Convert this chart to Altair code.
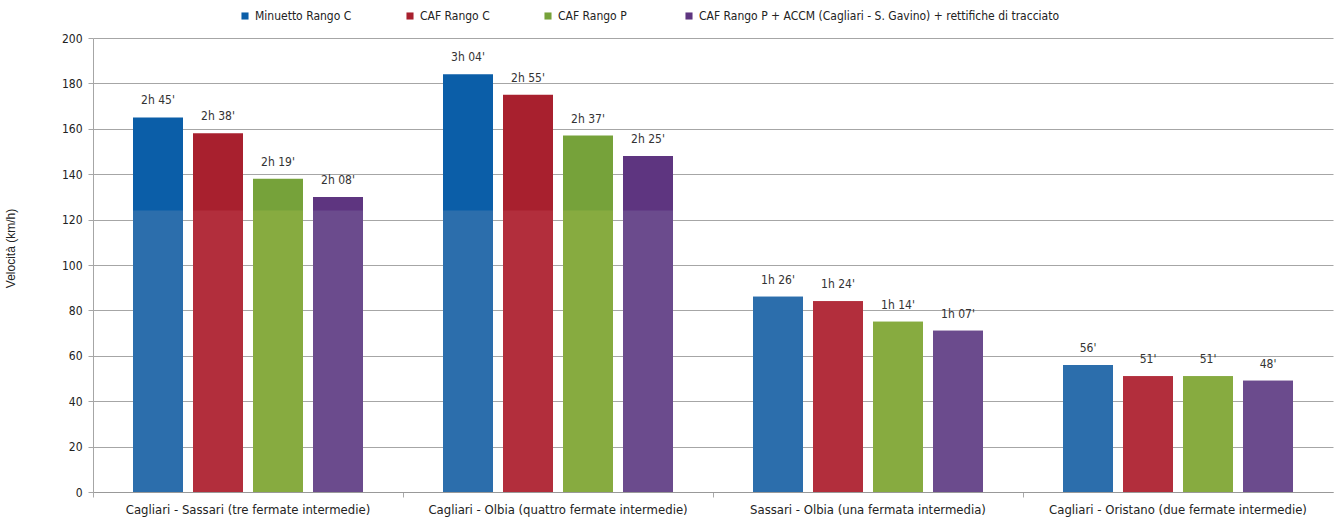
import altair as alt
import pandas as pd

routes = [
    "Cagliari - Sassari (tre fermate intermedie)",
    "Cagliari - Olbia (quattro fermate intermedie)",
    "Sassari - Olbia (una fermata intermedia)",
    "Cagliari - Oristano (due fermate intermedie)",
]
series = [
    "Minuetto Rango C",
    "CAF Rango C",
    "CAF Rango  P",
    "CAF Rango P + ACCM (Cagliari - S. Gavino) + rettifiche di  tracciato",
]
minuetto = [165, 184, 86, 56]
caf_c = [158, 175, 84, 51]
caf_p = [138, 157, 75, 51]
caf_p_accm = [130, 148, 71, 49]

minuetto_t = ["2h 45'", "3h 04'", "1h 26'", "56'"]
caf_c_t = ["2h 38'", "2h 55'", "1h 24'", "51'"]
caf_p_t = ["2h 19'", "2h 37'", "1h 14'", "51'"]
caf_p_accm_t = ["2h 08'", "2h 25'", "1h 07'", "48'"]

dark_colors = ["#0b5ea8", "#a8202e", "#76a23a", "#5e3580"]
light_colors = ["#2c6eac", "#b22e3c", "#87ab40", "#6b4b8d"]

rows = []
for s, vals, labs in zip(series, [minuetto, caf_c, caf_p, caf_p_accm],
                         [minuetto_t, caf_c_t, caf_p_t, caf_p_accm_t]):
    for r, v, l in zip(routes, vals, labs):
        rows.append({"route": r, "series": s, "value": v, "label": l})
df = pd.DataFrame(rows)

FONT = "Liberation Sans Narrow, DejaVu Sans Condensed, sans-serif"

x = alt.X("route:N", sort=routes, title=None,
          scale=alt.Scale(paddingInner=0, paddingOuter=0),
          axis=alt.Axis(labelAngle=0, labelFontSize=13, labelColor="#222",
                        labelFont=FONT, labelPadding=6, bandPosition=0,
                        tickSize=5, tickColor="#aaa", domainColor="#999",
                        labelLimit=400))
xo = alt.XOffset("series:N", sort=series,
                 scale=alt.Scale(paddingInner=0.1667, paddingOuter=0.6667))

base = alt.Chart(df)

bars = base.mark_bar().encode(
    x=x, xOffset=xo,
    y=alt.Y("value:Q", title="Velocità (km/h)",
            scale=alt.Scale(domain=[0, 200]),
            axis=alt.Axis(values=list(range(0, 201, 20)), labelFontSize=12,
                          labelColor="#222", labelFont=FONT,
                          titleFont="Liberation Sans, Arial, sans-serif",
                          titleFontSize=12, titleFontWeight="normal",
                          titleColor="#222", titleX=-76, titleY=210,
                          gridColor="#a6a6a6", tickColor="#a6a6a6",
                          domainColor="#a6a6a6", tickSize=5, labelPadding=6)),
    color=alt.Color("series:N", sort=series,
                    scale=alt.Scale(domain=series, range=dark_colors),
                    legend=alt.Legend(title=None, orient="none", direction="horizontal",
                                      legendX=146, legendY=-28, symbolType="square",
                                      symbolSize=50, labelFontSize=12, labelFont=FONT,
                                      labelColor="#222", columnPadding=52,
                                      symbolStrokeWidth=0, labelLimit=500)),
)

lower = base.transform_calculate(
    low="min(datum.value, 124)"
).mark_bar().encode(
    x=x, xOffset=xo,
    y=alt.Y("low:Q", scale=alt.Scale(domain=[0, 200])),
    color=alt.Color("series:N", sort=series,
                    scale=alt.Scale(domain=series, range=light_colors),
                    legend=None),
)

text = base.mark_text(dy=-10, baseline="bottom", fontSize=12, font=FONT,
                      color="#333").encode(
    x=x, xOffset=xo, y=alt.Y("value:Q"), text="label:N")

chart = alt.layer(bars, lower, text).resolve_scale(color="independent").properties(
    width=1240, height=454,
    autosize=alt.AutoSizeParams(type="none"),
    padding={"left": 93, "top": 38, "right": 1, "bottom": 27},
).configure_view(stroke=None).configure_axis(grid=True)

chart = chart.configure_axisX(grid=False)

chart.save("out.html", embed_options={"renderer": "svg", "actions": False})
